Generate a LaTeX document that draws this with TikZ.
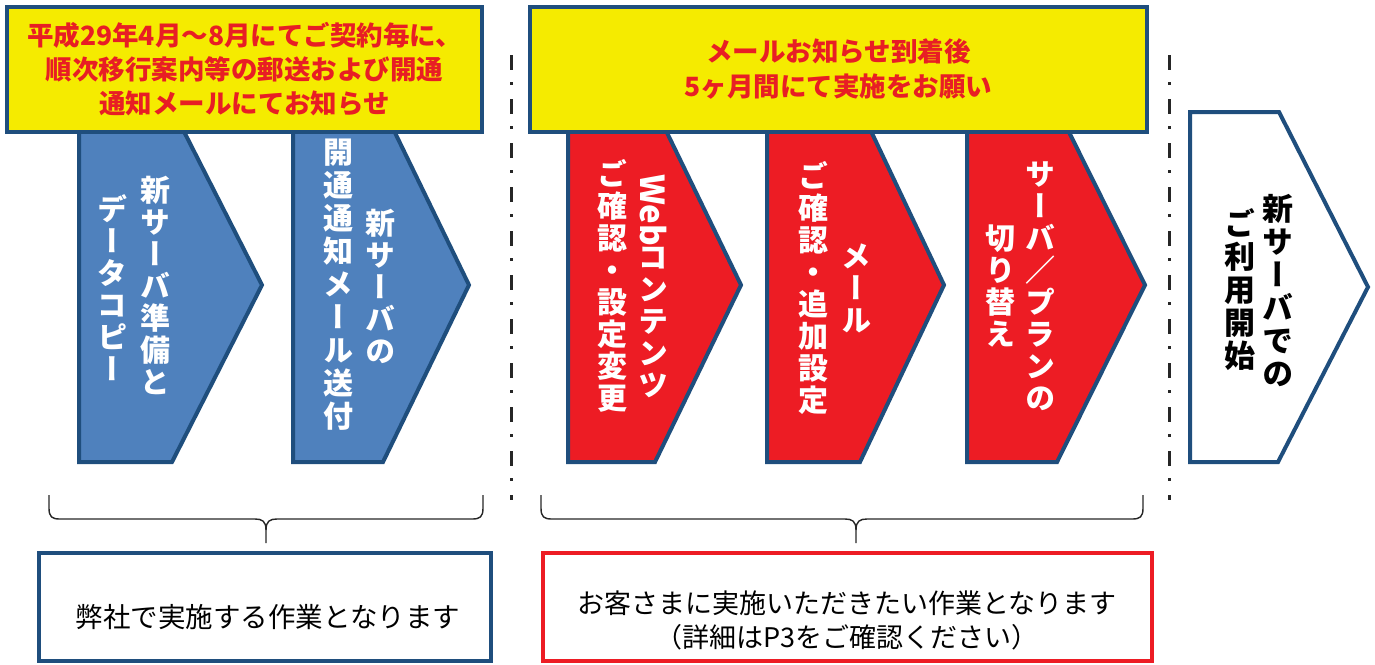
\documentclass[tikz,border=0pt]{standalone}
\usepackage{fontspec}
\usepackage{graphicx}
\newfontfamily\jp{Noto Sans CJK JP}
\newfontfamily\jpv{Noto Sans CJK JP}[RawFeature=+vert]
\definecolor{bfill}{RGB}{79,129,189}
\definecolor{bdr}{RGB}{31,78,125}
\definecolor{rfill}{RGB}{237,28,36}
\definecolor{ylw}{RGB}{245,235,0}
\definecolor{rtext}{RGB}{232,30,36}
\begin{document}
\begin{tikzpicture}[x=1pt,y=-1pt,
  chev/.style={line width=4pt, draw=bdr, line join=miter},
  bluechev/.style={chev, fill=bfill},
  redchev/.style={chev, fill=rfill},
  whitechev/.style={chev, fill=white},
  ybox/.style={draw=bdr, line width=4pt, fill=ylw, inner sep=0pt, align=center,
    text=rtext, font=\jp\bfseries\fontsize{26.5}{34}\selectfont},
  vtext/.style={align=center, inner sep=0pt, text=white,
    font=\jpv\bfseries\fontsize{30}{32}\selectfont},
  vtextk/.style={vtext, text=black, font=\jpv\bfseries\fontsize{31}{33}\selectfont},
  lowbox/.style={line width=4pt, fill=white, inner sep=0pt},
  lowtext/.style={align=center, inner sep=0pt, text=black,
    font=\jp\fontsize{27}{34}\selectfont},
  sep/.style={line width=3pt, draw=black!85, dash pattern=on 15pt off 12pt on 3pt off 14pt},
  bracepath/.style={line width=1.4pt, draw=black!85}
]
\path[use as bounding box] (0,0) rectangle (1375,664);

% chevrons (tops hidden under the yellow boxes)
\draw[bluechev] (79,108) -- (172,108) -- (262,285) -- (172,462) -- (79,462) -- cycle;
\draw[bluechev] (293,108) -- (383,108) -- (469,285) -- (383,462) -- (293,462) -- cycle;
\draw[redchev] (568,108) -- (655,108) -- (741,285) -- (655,462) -- (568,462) -- cycle;
\draw[redchev] (767,108) -- (860,108) -- (944,285) -- (860,462) -- (767,462) -- cycle;
\draw[redchev] (967,108) -- (1057,108) -- (1145,285) -- (1057,462) -- (967,462) -- cycle;
\draw[whitechev] (1190,112) -- (1279,112) -- (1368,287) -- (1278,462) -- (1190,462) -- cycle;

% yellow header boxes
\node[ybox, minimum width=475pt, minimum height=125pt] (hdrA) at (244.5,69.5)
  {平成29年4月～8月にてご契約毎に、\\順次移行案内等の郵送および開通\\通知メールにてお知らせ};
\node[ybox, minimum width=617pt, minimum height=125pt, font=\jp\bfseries\fontsize{26.5}{35}\selectfont] (hdrB) at (838.5,69.5)
  {メールお知らせ到着後\\5ヶ月間にて実施をお願い};

% vertical texts
\node[vtext] (b1r) at (155,285) {新\\サ\\ー\\バ\\準\\備\\と};
\node[vtext] (b1l) at (112,288) {デ\\ー\\タ\\コ\\ピ\\ー};
\node[vtext] (b2r) at (380,286) {新\\サ\\ー\\バ\\の};
\node[vtext, font=\jpv\bfseries\fontsize{30}{33}\selectfont] (b2l) at (338,285) {開\\通\\通\\知\\メ\\ー\\ル\\送\\付};
\node[vtext] (r1r) at (653,286) {\rotatebox{-90}{\fontsize{33}{33}\selectfont Web}\\コ\\ン\\テ\\ン\\ツ};
\node[vtext] (r1l) at (612,286) {ご\\確\\認\\・\\設\\定\\変\\更};
\node[vtext] (r2r) at (856,288) {メ\\ー\\ル};
\node[vtext] (r2l) at (813,288) {ご\\確\\認\\・\\追\\加\\設\\定};
\node[vtext] (r3r) at (1040,286) {サ\\ー\\バ\\／\\プ\\ラ\\ン\\の};
\node[vtext] (r3l) at (1000,286) {切\\り\\替\\え};
\node[vtextk] (wr) at (1278,291) {新\\サ\\ー\\バ\\で\\の};
\node[vtextk] (wl) at (1240,290) {ご\\利\\用\\開\\始};

% dash-dot separators
\coordinate (s1a) at (511,55);
\coordinate (s1b) at (511,500);
\coordinate (s2a) at (1169,55);
\coordinate (s2b) at (1169,500);
\draw[sep] (s1a) -- (s1b);
\draw[sep] (s2a) -- (s2b);

% braces
\draw[bracepath] (49,495) -- (49,508) .. controls (49,517) and (52,519) .. (60,519)
  -- (255,519) .. controls (262,519) and (266,521) .. (266,530) -- (266,543);
\draw[bracepath] (483,495) -- (483,508) .. controls (483,517) and (480,519) .. (472,519)
  -- (277,519) .. controls (270,519) and (266,521) .. (266,530);
\draw[bracepath] (541,495) -- (541,508) .. controls (541,517) and (544,519) .. (552,519)
  -- (845,519) .. controls (852,519) and (856,521) .. (856,530) -- (856,543);
\draw[bracepath] (1143,495) -- (1143,508) .. controls (1143,517) and (1140,519) .. (1132,519)
  -- (867,519) .. controls (860,519) and (856,521) .. (856,530);

% bottom boxes
\node[lowbox, draw=bdr, minimum width=452pt, minimum height=108pt] (ourbox) at (265,607) {};
\node[lowtext, font=\jp\fontsize{27.5}{34}\selectfont] (ourtxt) at (268,617) {弊社で実施する作業となります};
\node[lowbox, draw=rfill, minimum width=609pt, minimum height=108pt] (custbox) at (847.5,607) {};
\node[lowtext] (custtxt) at (847,620) {お客さまに実施いただきたい作業となります\\（詳細はP3をご確認ください）};
\end{tikzpicture}
\end{document}
